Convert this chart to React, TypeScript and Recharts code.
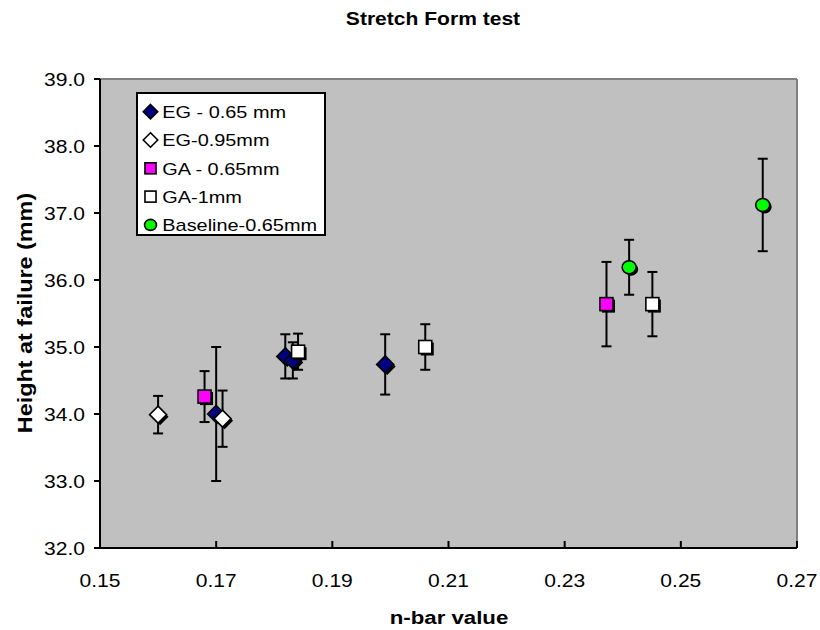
import React from "react";
import {
  ScatterChart,
  Scatter,
  XAxis,
  YAxis,
  CartesianGrid,
  ErrorBar,
  ReferenceLine,
  Legend,
} from "recharts";

const FONT = "'Liberation Sans', Arial, Helvetica, sans-serif";
// the original picture is a little wider than tall, text looks stretched
const SX = 1.17;

const xTicks = [0.15, 0.17, 0.19, 0.21, 0.23, 0.25, 0.27];
const yTicks = [32, 33, 34, 35, 36, 37, 38, 39];

// EG - 0.65 mm
const eg065X = [0.17, 0.1819, 0.1832, 0.1991];
const eg065Y = [34.0, 34.86, 34.8, 34.74];
const eg065Err = [1.0, 0.33, 0.27, 0.45];

// EG-0.95mm
const eg095X = [0.16, 0.1711];
const eg095Y = [33.99, 33.93];
const eg095Err = [0.28, 0.42];

// GA - 0.65mm
const ga065X = [0.168, 0.2372];
const ga065Y = [34.26, 35.64];
const ga065Err = [0.38, 0.63];

// GA-1mm
const ga1X = [0.1841, 0.206, 0.2451];
const ga1Y = [34.93, 35.0, 35.64];
const ga1Err = [0.27, 0.34, 0.48];

// Baseline-0.65mm
const baseX = [0.2411, 0.2641];
const baseY = [36.19, 37.12];
const baseErr = [0.41, 0.69];

const toPoints = (xs: number[], ys: number[], es: number[]) =>
  xs.map((x, i) => ({ x, y: ys[i], err: es[i] }));

type Kind = "diamond" | "square" | "circle";

const SERIES: { name: string; kind: Kind; fill: string; data: any[] }[] = [
  { name: "EG - 0.65 mm", kind: "diamond", fill: "#000080", data: toPoints(eg065X, eg065Y, eg065Err) },
  { name: "EG-0.95mm", kind: "diamond", fill: "#FFFFFF", data: toPoints(eg095X, eg095Y, eg095Err) },
  { name: "GA - 0.65mm", kind: "square", fill: "#FF00FF", data: toPoints(ga065X, ga065Y, ga065Err) },
  { name: "GA-1mm", kind: "square", fill: "#FFFFFF", data: toPoints(ga1X, ga1Y, ga1Err) },
  { name: "Baseline-0.65mm", kind: "circle", fill: "#00FF00", data: toPoints(baseX, baseY, baseErr) },
];

function SText({ x, y, size, bold, anchor = "start", rotate = false, children }: any) {
  const t = rotate
    ? `translate(${x},${y}) rotate(-90) scale(${SX},1)`
    : `translate(${x},${y}) scale(${SX},1)`;
  return (
    <text
      transform={t}
      fontFamily={FONT}
      fontSize={size}
      fontWeight={bold ? "bold" : "normal"}
      textAnchor={anchor}
      fill="#000"
    >
      {children}
    </text>
  );
}

function Marker({ kind, cx, cy, fill, size = 1, shadow = 2 }: any) {
  const parts: React.ReactNode[] = [];
  const draw = (dx: number, dy: number, f: string, key: string, stroke: boolean) => {
    const x = cx + dx;
    const y = cy + dy;
    const sp = stroke ? { stroke: "#000", strokeWidth: 1.6 } : {};
    if (kind === "diamond") {
      const r = 8.5 * size;
      parts.push(
        <polygon key={key} points={`${x},${y - r} ${x + r},${y} ${x},${y + r} ${x - r},${y}`} fill={f} {...sp} />
      );
    } else if (kind === "square") {
      const h = 6.5 * size;
      parts.push(<rect key={key} x={x - h} y={y - h} width={2 * h} height={2 * h} fill={f} {...sp} />);
    } else {
      parts.push(<ellipse key={key} cx={x} cy={y} rx={7 * size} ry={6.5 * size} fill={f} {...sp} />);
    }
  };
  if (shadow) draw(shadow, shadow, "#000", "s", false);
  draw(0, 0, fill, "m", true);
  return <g>{parts}</g>;
}

const makeShape = (kind: Kind, fill: string) => (props: any) =>
  <Marker kind={kind} cx={props.cx} cy={props.cy} fill={fill} />;

const XTick = (props: any) => (
  <SText x={props.x} y={props.y + 39} size={18} anchor="middle">
    {Number(props.payload.value).toFixed(2)}
  </SText>
);

const YTick = (props: any) => (
  <SText x={props.x} y={props.y + 6.5} size={18} anchor="end">
    {Number(props.payload.value).toFixed(1)}
  </SText>
);

const renderLegend = () => (
  <svg width={192} height={146} style={{ display: "block" }}>
    <rect x={1} y={1} width={188} height={142} fill="#fff" stroke="#000" strokeWidth={2} />
    {SERIES.map((s, i) => (
      <g key={s.name}>
        <Marker kind={s.kind} cx={14.5} cy={19.7 + i * 28.3} fill={s.fill} size={0.85} shadow={0} />
        <SText x={26.3} y={26 + i * 28.3} size={17}>
          {s.name}
        </SText>
      </g>
    ))}
  </svg>
);

export default function App() {
  return (
    <div style={{ position: "absolute", left: 0, top: 0, width: 820, height: 630, background: "#fff" }}>
      <ScatterChart
        width={820}
        height={630}
        margin={{ top: 79, right: 23, left: 0, bottom: 42 }}
      >
        <CartesianGrid horizontal={false} vertical={false} fill="#C0C0C0" stroke="none" />
        <XAxis
          type="number"
          dataKey="x"
          domain={[0.15, 0.27]}
          ticks={xTicks}
          allowDataOverflow
          height={40}
          tickSize={-7}
          tickMargin={7}
          axisLine={{ stroke: "#000", strokeWidth: 2 }}
          tickLine={{ stroke: "#000", strokeWidth: 2 }}
          tick={<XTick />}
        />
        <YAxis
          type="number"
          dataKey="y"
          domain={[32, 39]}
          ticks={yTicks}
          allowDataOverflow
          width={100}
          tickSize={6}
          tickMargin={9}
          axisLine={{ stroke: "#000", strokeWidth: 2 }}
          tickLine={{ stroke: "#000", strokeWidth: 2 }}
          tick={<YTick />}
        />
        <ReferenceLine y={39} stroke="#808080" strokeWidth={2} />
        <ReferenceLine x={0.27} stroke="#808080" strokeWidth={2} />
        {SERIES.map((s) => (
          <Scatter
            key={s.name}
            name={s.name}
            data={s.data}
            fill={s.fill}
            shape={makeShape(s.kind, s.fill)}
            isAnimationActive={false}
          >
            <ErrorBar dataKey="err" direction="y" width={5} stroke="#000" strokeWidth={2} />
          </Scatter>
        ))}
        <Legend
          layout="horizontal"
          verticalAlign="middle"
          align="center"
          wrapperStyle={{ left: 136, top: 92, width: 192, height: 146 }}
          content={renderLegend}
        />
      </ScatterChart>
      <svg
        width={820}
        height={630}
        style={{ position: "absolute", left: 0, top: 0, pointerEvents: "none" }}
      >
        <SText x={433} y={25} size={18} bold anchor="middle">
          Stretch Form test
        </SText>
        <SText x={449} y={624} size={19} bold anchor="middle">
          n-bar value
        </SText>
        <SText x={32} y={313} size={20} bold anchor="middle" rotate>
          Height at failure (mm)
        </SText>
      </svg>
    </div>
  );
}
